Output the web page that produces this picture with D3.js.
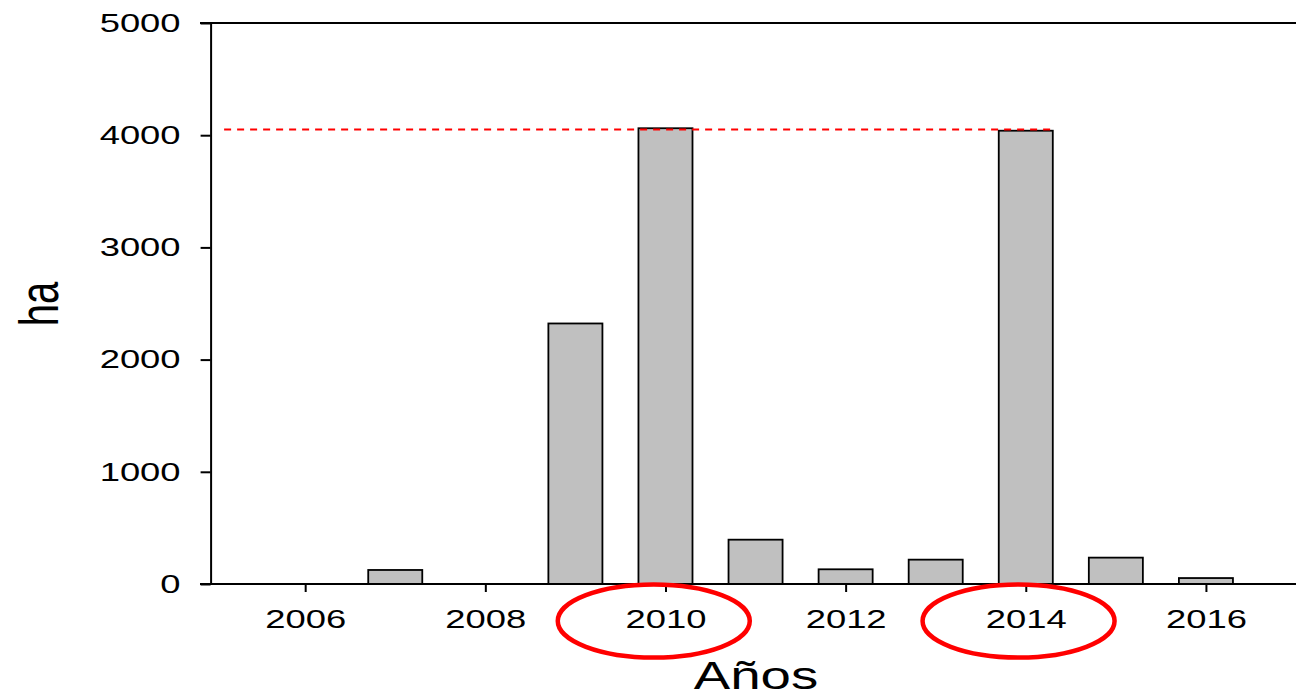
<!DOCTYPE html>
<html>
<head>
<meta charset="utf-8">
<script src="https://cdn.jsdelivr.net/npm/d3@7"></script>
<style>
body { margin: 0; background: #fff; }
text { font-family: "Liberation Sans", Arial, sans-serif; fill: #000; }
</style>
</head>
<body>
<svg width="1296" height="695"></svg>
<script>
// data
var years = [2006, 2007, 2008, 2009, 2010, 2011, 2012, 2013, 2014, 2015, 2016];
var hectares = [0, 125, 0, 2322, 4062, 395, 131, 217, 4040, 235, 53];
var yTicks = [0, 1000, 2000, 3000, 4000, 5000];
var xTicks = [2006, 2008, 2010, 2012, 2014, 2016];
var refValue = 4050;
var refSpan = [2005.1, 2014.3];
var circledYears = [2009.87, 2013.92];

// the picture is stretched sideways, text too
var stretch = 1.4;

var svg = d3.select("svg");

var x = d3.scaleLinear().domain([2004.95, 2017]).range([210.6, 1296]);
var y = d3.scaleLinear().domain([0, 5000]).range([584, 23]);
var barW = 0.6 * (x(2007) - x(2006));

// top frame line
svg.append("line")
    .attr("x1", 200).attr("x2", 1296)
    .attr("y1", y(5000)).attr("y2", y(5000))
    .attr("stroke", "#000").attr("stroke-width", 2);

// bars
svg.selectAll("rect.bar")
    .data(years.map(function(d, i) { return {year: d, val: hectares[i]}; }).filter(function(d) { return d.val > 0; }))
    .enter()
    .append("rect")
    .attr("class", "bar")
    .attr("x", function(d) { return x(d.year) - barW / 2; })
    .attr("width", barW)
    .attr("y", function(d) { return y(d.val); })
    .attr("height", function(d) { return y(0) - y(d.val); })
    .attr("fill", "#c0c0c0")
    .attr("stroke", "#000")
    .attr("stroke-width", 1.8);

// red dashed reference line
svg.append("line")
    .attr("x1", x(refSpan[0])).attr("x2", x(refSpan[1]))
    .attr("y1", y(refValue)).attr("y2", y(refValue))
    .attr("stroke", "#ff0000").attr("stroke-width", 2)
    .attr("stroke-dasharray", "7,6");

// y axis
var yAxis = svg.append("g")
    .attr("transform", "translate(210.6,0)")
    .call(d3.axisLeft(y).tickValues(yTicks).tickSize(10).tickSizeOuter(0).tickFormat(d3.format("d")));
yAxis.select(".domain").attr("stroke-width", 2);
yAxis.selectAll(".tick line").attr("stroke-width", 2);
yAxis.selectAll(".tick text")
    .attr("font-size", 26)
    .attr("x", -30 / stretch)
    .attr("transform", "scale(" + stretch + ",1)");

// x axis
var xAxis = svg.append("g")
    .attr("transform", "translate(0," + y(0) + ")")
    .call(d3.axisBottom(x).tickValues(xTicks).tickSize(8).tickSizeOuter(0).tickPadding(18).tickFormat(d3.format("d")));
xAxis.select(".domain").remove();
xAxis.selectAll(".tick line").attr("stroke-width", 2);
xAxis.selectAll(".tick text")
    .attr("font-size", 26)
    .attr("transform", "scale(" + stretch + ",1)");

svg.append("line")
    .attr("x1", 200).attr("x2", 1296)
    .attr("y1", y(0)).attr("y2", y(0))
    .attr("stroke", "#000").attr("stroke-width", 2);

// red ellipses round the two peak years
svg.selectAll("ellipse.mark")
    .data(circledYears)
    .enter()
    .append("ellipse")
    .attr("class", "mark")
    .attr("cx", function(d) { return x(d); })
    .attr("cy", 621)
    .attr("rx", 96)
    .attr("ry", 36.5)
    .attr("fill", "none")
    .attr("stroke", "#ff0000")
    .attr("stroke-width", 4.5);

// axis titles
svg.append("text")
    .attr("transform", "translate(756,689) scale(" + stretch + ",1)")
    .attr("text-anchor", "middle")
    .attr("font-size", 39)
    .text("Años");

svg.append("text")
    .attr("transform", "translate(58,304) scale(" + stretch + ",1) rotate(-90)")
    .attr("text-anchor", "middle")
    .attr("font-size", 40)
    .text("ha");
</script>
</body>
</html>
